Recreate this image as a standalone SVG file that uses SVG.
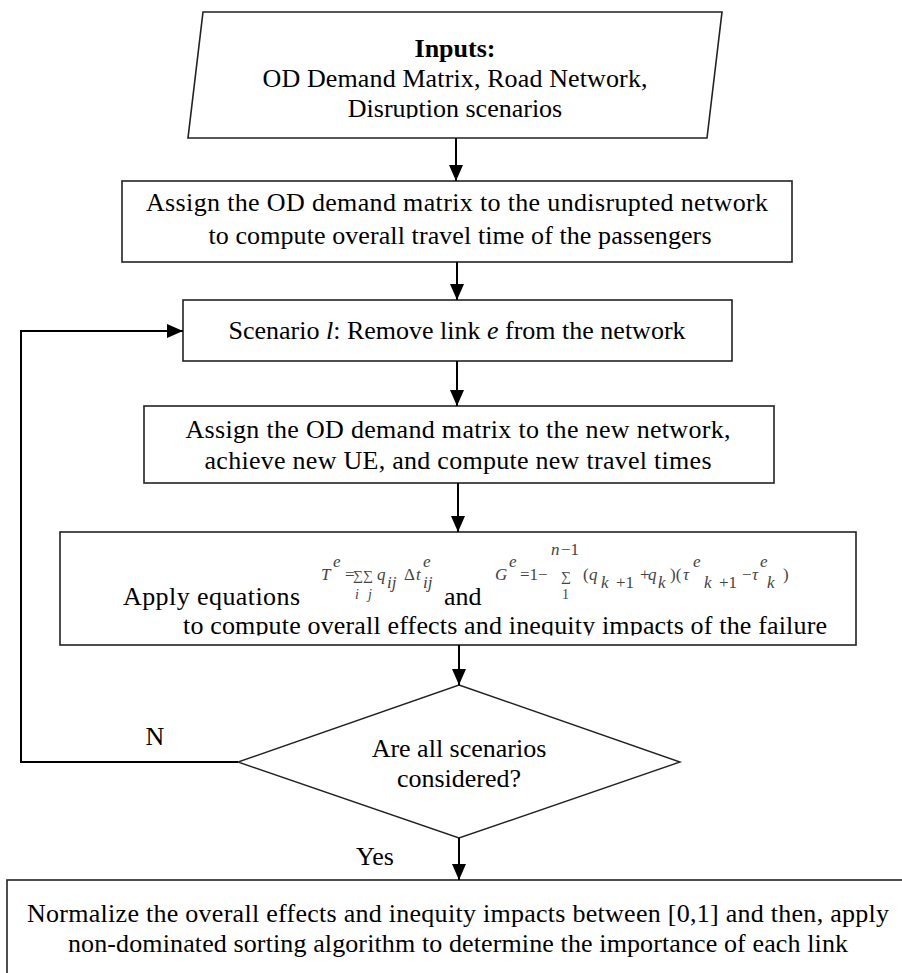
<svg xmlns="http://www.w3.org/2000/svg" width="902" height="973" viewBox="0 0 902 973">
<defs>
<style>
.box{fill:#fff;stroke:#222;stroke-width:1.6}
.t{font-family:"Liberation Serif","Times New Roman",serif;font-size:26px;fill:#000;text-anchor:middle}
.tl{font-family:"Liberation Serif","Times New Roman",serif;font-size:26px;fill:#000}
.f{font-family:"Liberation Serif","Times New Roman",serif;font-size:17px;fill:#444}
.fi{font-family:"Liberation Serif","Times New Roman",serif;font-size:17px;font-style:italic;fill:#444}
.fs{font-family:"Liberation Serif","Times New Roman",serif;font-size:14px;fill:#444}
.c{fill:none;stroke:#000;stroke-width:2}
</style>
<marker id="ah" markerWidth="16" markerHeight="14" refX="16" refY="7" orient="auto" markerUnits="userSpaceOnUse">
<path d="M0,0 L16,7 L0,14 Z" fill="#000"/>
</marker>
<clipPath id="clipIn"><rect x="0" y="0" width="902" height="118.5"/></clipPath>
<clipPath id="clipEq"><rect x="0" y="0" width="902" height="635.5"/></clipPath>
</defs>

<g id="inputs">
<polygon class="box" points="203,12 722,12 707,138 188,138"/>
<text class="t" x="455" y="57" font-weight="bold">Inputs:</text>
<text class="t" x="455" y="87" textLength="385">OD Demand Matrix, Road Network,</text>
<text class="t" x="455" y="117" clip-path="url(#clipIn)">Disruption scenarios</text>
</g>

<g id="assign-undisrupted">
<rect class="box" x="122" y="181" width="670" height="81"/>
<text class="t" x="457" y="211" textLength="622">Assign the OD demand matrix to the undisrupted network</text>
<text class="t" x="460" y="244" textLength="503">to compute overall travel time of the passengers</text>
</g>

<g id="scenario">
<rect class="box" x="183" y="300" width="549" height="61"/>
<text class="t" x="457" y="339">Scenario <tspan font-style="italic">l</tspan>: Remove link <tspan font-style="italic">e</tspan> from the network</text>
</g>

<g id="assign-new">
<rect class="box" x="144" y="406" width="630" height="77"/>
<text class="t" x="458" y="438" textLength="545">Assign the OD demand matrix to the new network,</text>
<text class="t" x="458" y="469" textLength="507">achieve new UE, and compute new travel times</text>
</g>

<g id="apply-equations">
<rect class="box" x="60" y="532" width="796" height="113"/>
<text class="tl" x="123" y="605" textLength="177">Apply equations</text>
<text class="tl" x="444" y="605">and</text>
<text class="t" x="505" y="634" textLength="644" clip-path="url(#clipEq)">to compute overall effects and inequity impacts of the failure</text>
<!-- T^e formula -->
<text class="fi" x="321" y="580">T</text>
<text class="fi" x="333" y="567">e</text>
<text class="f" x="345" y="580">=</text>
<text class="fs" x="353" y="580">∑∑</text>
<text class="fi" x="377" y="580">q</text>
<text class="fi" x="387" y="588">ij</text>
<text class="f" x="404" y="580">Δ</text>
<text class="fi" x="416" y="580">t</text>
<text class="fi" x="423" y="567">e</text>
<text class="fi" x="423" y="588">ij</text>
<text class="fs" x="355" y="599" font-style="italic">i</text>
<text class="fs" x="368" y="599" font-style="italic">j</text>
<!-- G^e formula -->
<text class="fi" x="495" y="580">G</text>
<text class="fi" x="509" y="567">e</text>
<text class="f" x="520" y="580">=1−</text>
<text class="fi" x="551" y="555">n</text>
<text class="f" x="561" y="555">−1</text>
<text class="fs" x="561" y="581">∑</text>
<text class="fs" x="562" y="599">1</text>
<text class="f" x="583" y="580">(</text>
<text class="fi" x="589" y="580">q</text>
<text class="fi" x="601" y="588">k</text>
<text class="f" x="616" y="588">+1</text>
<text class="f" x="640" y="580">+</text>
<text class="fi" x="648" y="580">q</text>
<text class="fi" x="658" y="588">k</text>
<text class="f" x="670" y="580">)(</text>
<text class="fi" x="683" y="580">τ</text>
<text class="fi" x="693" y="567">e</text>
<text class="fi" x="704" y="588">k</text>
<text class="f" x="719" y="588">+1</text>
<text class="f" x="742" y="580">−</text>
<text class="fi" x="752" y="580">τ</text>
<text class="fi" x="760" y="567">e</text>
<text class="fi" x="767" y="588">k</text>
<text class="f" x="783" y="580">)</text>
</g>

<g id="decision">
<polygon class="box" points="459,685 680,762 459,838 238,762" style="stroke-width:1.4"/>
<text class="t" x="459" y="757">Are all scenarios</text>
<text class="t" x="459" y="787">considered?</text>
</g>

<g id="normalize">
<rect class="box" x="7" y="880" width="910" height="110"/>
<text class="t" x="458" y="922" textLength="862">Normalize the overall effects and inequity impacts between [0,1] and then, apply</text>
<text class="t" x="458" y="952" textLength="780">non-dominated sorting algorithm to determine the importance of each link</text>
</g>

<g id="connectors">
<line class="c" x1="456" y1="138" x2="456" y2="181" marker-end="url(#ah)"/>
<line class="c" x1="457" y1="262" x2="457" y2="300" marker-end="url(#ah)"/>
<line class="c" x1="457" y1="361" x2="457" y2="406" marker-end="url(#ah)"/>
<line class="c" x1="458" y1="483" x2="458" y2="532" marker-end="url(#ah)"/>
<line class="c" x1="459" y1="645" x2="459" y2="685" marker-end="url(#ah)"/>
<polyline class="c" points="238,762 21,762 21,331 183,331" marker-end="url(#ah)"/>
<line class="c" x1="459" y1="838" x2="459" y2="880" marker-end="url(#ah)"/>
<text class="t" x="155" y="745">N</text>
<text class="t" x="375" y="865">Yes</text>
</g>
</svg>
